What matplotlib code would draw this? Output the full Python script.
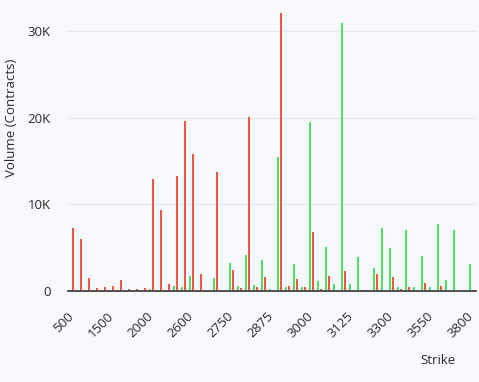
import matplotlib
matplotlib.use("Agg")
import matplotlib.pyplot as plt
import numpy as np

strikes = [500, 1000, 1200, 1300, 1400, 1500, 1600, 1700, 1800, 1900,
           2000, 2200, 2300, 2400, 2500, 2600, 2650, 2675, 2700, 2725,
           2750, 2775, 2800, 2825, 2850, 2875, 2900, 2925, 2950, 2975,
           3000, 3025, 3050, 3075, 3100, 3125, 3150, 3175, 3200, 3250,
           3300, 3350, 3400, 3450, 3500, 3550, 3600, 3650, 3700, 3750, 3800]
calls = [0, 0, 0, 0, 0, 0, 100, 0, 0, 0,
         150, 0, 0, 540, 390, 1700, 0, 0, 1470, 0,
         3260, 540, 4120, 650, 3500, 250, 15440, 370, 3090, 380,
         19500, 1160, 5090, 770, 30950, 770, 3890, 130, 2620, 7250,
         4940, 400, 7030, 380, 4010, 380, 7670, 1270, 7020, 115, 3080]
puts = [7250, 5980, 1430, 270, 430, 540, 1200, 160, 160, 270,
        12880, 9330, 770, 13260, 19620, 15770, 1950, 0, 13760, 0,
        2350, 260, 20040, 380, 1540, 0, 32140, 500, 1300, 380,
        6790, 150, 1700, 0, 2330, 0, 115, 0, 1950, 0,
        1580, 250, 400, 0, 890, 0, 540, 0, 0, 0, 0]

bg = "#f8f9fc"
red = "#F4563E"
green = "#50DD69"
txt = "#2a2a2a"

fig = plt.figure(figsize=(4.79, 3.82), dpi=100, facecolor=bg)
W, H = 479, 382
left, right, top, bottom = 67.5, 475.5, 5, 290.7
ax = fig.add_axes([left / W, (H - bottom) / H, (right - left) / W, (bottom - top) / H])
ax.set_facecolor(bg)

x = np.arange(len(strikes))
off = 0.19
bw = 0.29
ax.bar(x - off, calls, width=bw, color=green, zorder=3, linewidth=0)
ax.bar(x + off, puts, width=bw, color=red, zorder=3, linewidth=0)

ax.set_xlim(-0.5, len(strikes) - 0.5)
ax.set_ylim(0, (bottom - top) / 86.5 * 10000)

ax.set_yticks([0, 10000, 20000, 30000])
ax.set_yticklabels(["0", "10K", "20K", "30K"])
ax.set_xticks(x[::5])
ax.set_xticklabels([str(s) for s in strikes[::5]], rotation=45, ha="right",
                   va="center", rotation_mode="anchor")

ax.grid(axis="y", color="#e5e8ee", linewidth=1, zorder=0)
ax.grid(axis="x", visible=False)
for s in ["top", "right", "left"]:
    ax.spines[s].set_visible(False)
ax.spines["bottom"].set_color("#444444")
ax.spines["bottom"].set_linewidth(1.3)
ax.spines["bottom"].set_zorder(4)

ax.tick_params(axis="y", length=0, pad=12, labelsize=9.5, labelcolor=txt)
ax.tick_params(axis="x", length=0, pad=17, labelsize=9.5, labelcolor=txt)
for lab in ax.get_yticklabels() + ax.get_xticklabels():
    lab.set_fontfamily("Open Sans")

fig.text(438 / W, 1 - 360 / H, "Strike", ha="center", va="center",
         fontsize=9.5, color=txt, family="Open Sans")
fig.text(12 / W, 1 - 118 / H, "Volume (Contracts)", ha="center", va="center",
         rotation=90, fontsize=9.5, color=txt, family="Open Sans")

fig.savefig("out.png", dpi=100, facecolor=bg)
